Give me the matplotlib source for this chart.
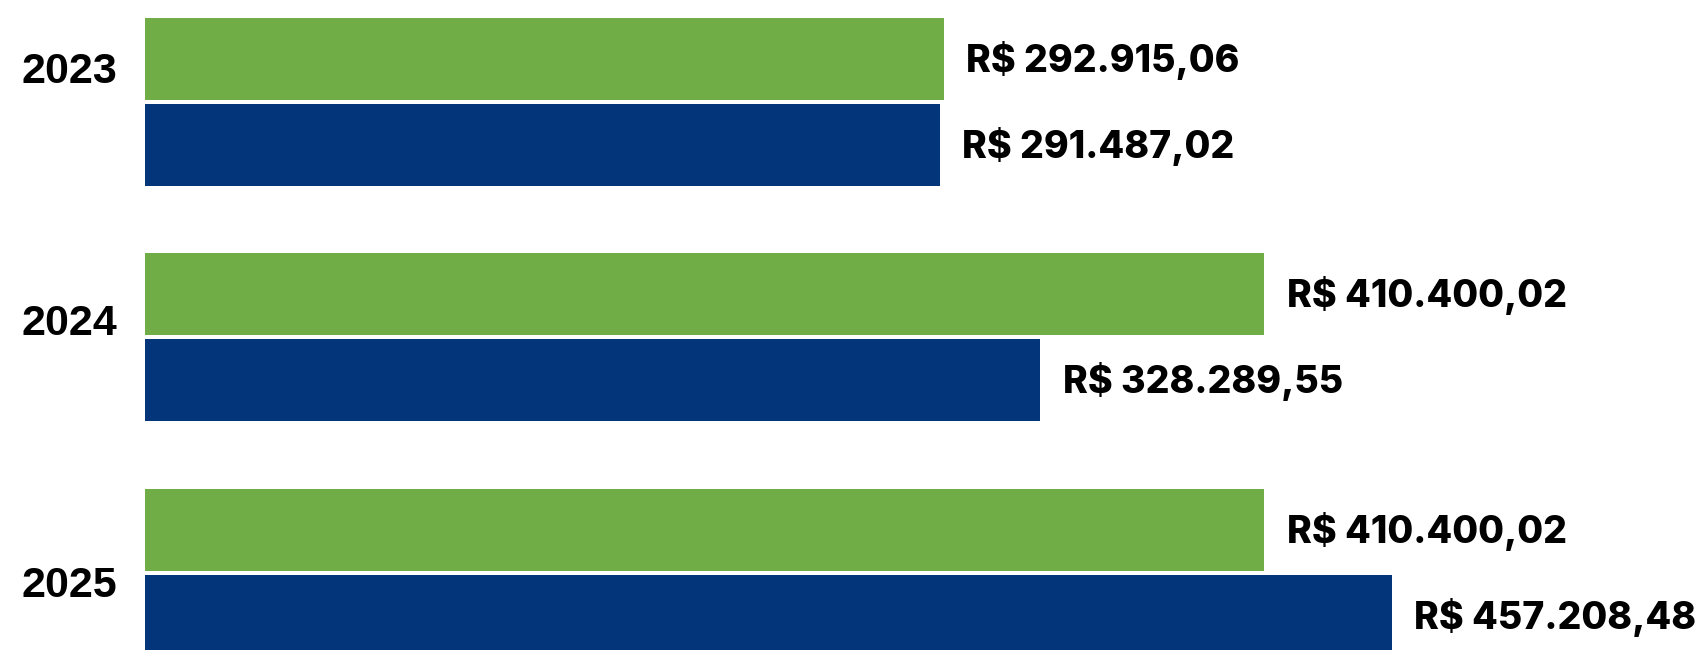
import numpy as np
import matplotlib
matplotlib.use("Agg")
import matplotlib.pyplot as plt

# dados
anos = ["2023", "2024", "2025"]
verde = [292915.06, 410400.02, 410400.02]
azul = [291487.02, 328289.55, 457208.48]

COR_VERDE = "#70ad47"
COR_AZUL = "#03357a"


def brl(v):
    s = f"{v:,.2f}"
    s = s.replace(",", "X").replace(".", ",").replace("X", ".")
    return "R$ " + s


fig = plt.figure(figsize=(17.02, 6.5), dpi=100)
ax = fig.add_axes([145 / 1702, 0, 1 - 145 / 1702, 1])

y = np.arange(len(anos))
h = 82 / 235.5
off = 43 / 235.5

ax.barh(y - off, verde, height=h, color=COR_VERDE)
ax.barh(y + off, azul, height=h, color=COR_AZUL)

ax.set_xlim(0, 570850)
ax.set_ylim(2.327, -0.433)
ax.axis("off")

fonte_valor = dict(family=["Inter", "DejaVu Sans"], weight="heavy", fontsize=27)
for i in range(len(anos)):
    ax.annotate(brl(verde[i]), xy=(verde[i], y[i] - off), xytext=(16, -1),
                textcoords="offset points", ha="left", va="center", **fonte_valor)
    ax.annotate(brl(azul[i]), xy=(azul[i], y[i] + off), xytext=(16, -1),
                textcoords="offset points", ha="left", va="center", **fonte_valor)

# rótulos dos anos (deslocados como no original)
desloc = [21.5, 10, -9.5]
for i, ano in enumerate(anos):
    ax.annotate(ano, xy=(0, y[i]), xycoords=("axes fraction", "data"),
                xytext=(-20, desloc[i]), textcoords="offset points",
                ha="right", va="center", family="Liberation Sans",
                weight="bold", fontsize=31, annotation_clip=False)

fig.savefig("out.png", dpi=100)
